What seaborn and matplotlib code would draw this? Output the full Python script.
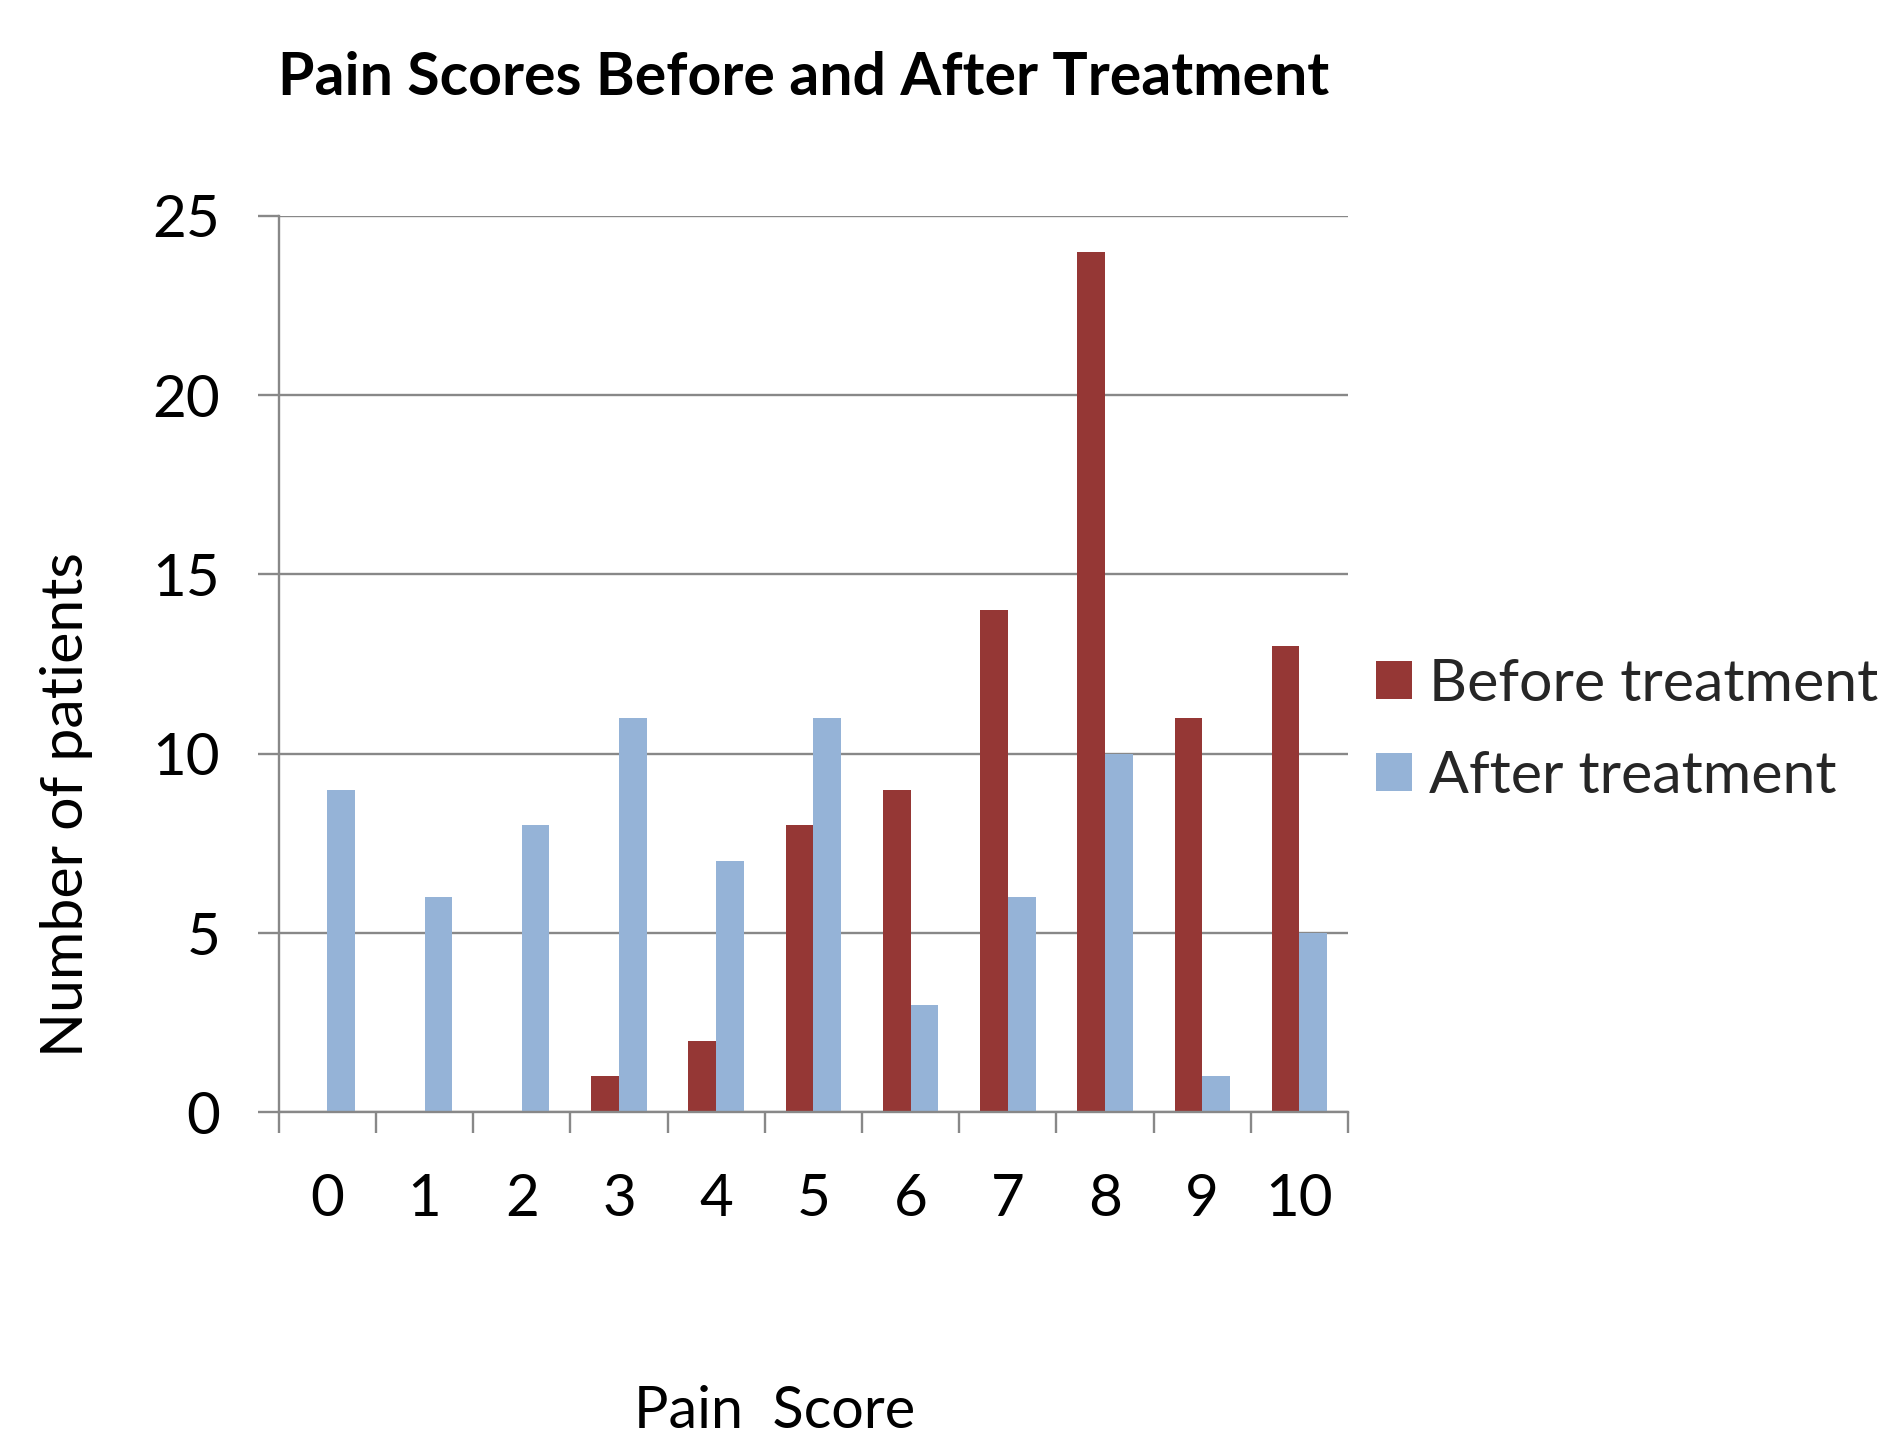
import matplotlib
matplotlib.use("Agg")
import matplotlib.pyplot as plt
import seaborn as sns
import pandas as pd
from matplotlib.ticker import MultipleLocator, FixedLocator

# Number of patients at each pain score, before and after treatment
scores = [0, 1, 2, 3, 4, 5, 6, 7, 8, 9, 10]
before_treatment = [0, 0, 0, 1, 2, 8, 9, 14, 24, 11, 13]
after_treatment = [9, 6, 8, 11, 7, 11, 3, 6, 10, 1, 5]
series_names = ["Before treatment", "After treatment"]

df = pd.DataFrame({
    "score": [str(s) for s in scores] * 2,
    "patients": before_treatment + after_treatment,
    "when": [series_names[0]] * len(scores) + [series_names[1]] * len(scores),
})

sns.set_theme(style="white")
plt.rcParams["font.family"] = ["Lato", "DejaVu Sans"]

RED = "#953735"
BLUE = "#95B3D7"
GRID = "#888888"

fig = plt.figure(figsize=(18.87, 14.39), dpi=100)
ax = fig.add_axes([0.1477, 0.2270, 0.5667, 0.6231])

sns.barplot(
    data=df, x="score", y="patients", hue="when",
    order=[str(s) for s in scores], hue_order=series_names,
    palette=[RED, BLUE], width=0.57, gap=0, saturation=1,
    linewidth=0, ax=ax, legend=True,
)

ax.set_xlim(-0.5, len(scores) - 0.5)
ax.set_ylim(0, 25)
ax.yaxis.set_major_locator(MultipleLocator(5))
ax.yaxis.grid(True, color=GRID, linewidth=1.7)
ax.set_axisbelow(True)

for side in ("top", "right"):
    ax.spines[side].set_visible(False)
for side in ("left", "bottom"):
    ax.spines[side].set_color(GRID)
    ax.spines[side].set_linewidth(1.7)
    ax.spines[side].set_zorder(3)

# Category labels sit between tick marks drawn at the category boundaries
ax.xaxis.set_minor_locator(FixedLocator([i - 0.5 for i in range(len(scores) + 1)]))
ax.tick_params(axis="x", which="major", length=0, pad=44, labelsize=42, labelcolor="black")
ax.tick_params(axis="x", which="minor", length=15, width=1.7, color=GRID, direction="out", bottom=True)
ax.tick_params(axis="y", which="major", length=15, width=1.7, color=GRID, direction="out",
               left=True, pad=27, labelsize=42, labelcolor="black")

ax.set_xlabel("")
ax.set_ylabel("")

fig.text(0.4261, 0.9455, "Pain Scores Before and After Treatment",
         ha="center", va="center", fontsize=42.5, fontweight="bold", color="black")
fig.text(0.035, 0.4406, "Number of patients", rotation=90,
         ha="center", va="center", fontsize=42.5, color="black")
fig.text(0.4107, 0.0008, "Pain  Score", ha="center", va="bottom",
         fontsize=41.5, color="black")

handles, labels = ax.get_legend_handles_labels()
ax.legend(
    handles, labels, loc="center left", bbox_to_anchor=(0.729, 0.4923),
    bbox_transform=fig.transFigure, frameon=False, fontsize=42.5,
    handlelength=0.61, handleheight=0.61, handletextpad=0.3,
    labelspacing=0.66, borderpad=0, borderaxespad=0,
)

fig.savefig("out.png", dpi=100)
